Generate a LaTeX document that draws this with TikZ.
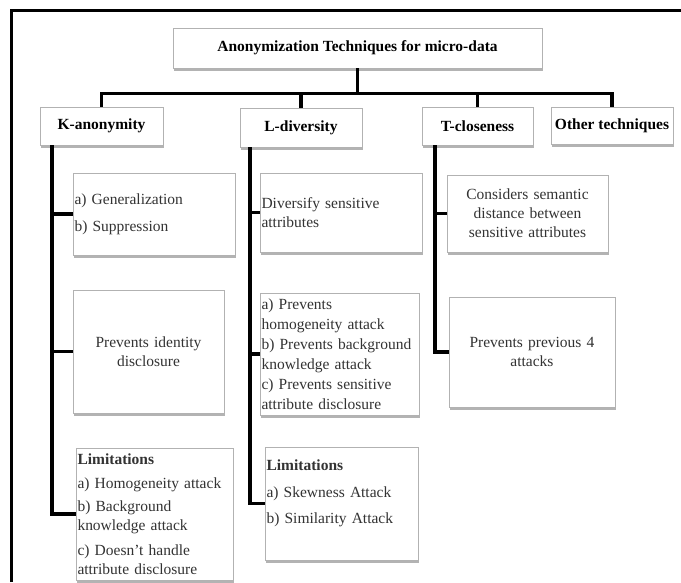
\documentclass[tikz,border=0pt]{standalone}
\usepackage{fontspec}
\setmainfont{Liberation Serif}
\usetikzlibrary{shadows}
\newcommand{\txtsize}{\fontsize{15.5}{19}\selectfont}
\tikzset{
    box/.style={draw=gray!60, line width=0.8pt, fill=white,
        drop shadow={shadow xshift=1.2pt, shadow yshift=-3pt, fill=gray!85, opacity=0.7},
        inner xsep=1.5pt, inner ysep=0pt, font=\txtsize, text=black!80},
    head/.style={box, font=\txtsize\bfseries, text=black},
    link/.style={line width=3.5pt, line join=miter}
}

\begin{document}
\begin{tikzpicture}[x=1pt, y=-1pt]
\useasboundingbox (0,0) rectangle (681,582);
% frame
\draw[line width=3pt] (11.5,582) -- (11.5,10) -- (681,10);

% headings
\node[head, minimum width=369pt, minimum height=40pt] (title) at (357.5,48) {Anonymization Techniques for micro-data};
\node[head, minimum width=123pt, minimum height=38pt] (kanon) at (101.5,126) {K-anonymity};
\node[head, minimum width=122pt, minimum height=39pt] (ldiv) at (301,127.5) {L-diversity};
\node[head, minimum width=111pt, minimum height=38pt] (tclose) at (477.5,126) {T-closeness};
\node[head, minimum width=122pt, minimum height=37pt] (other) at (612,125.5) {Other techniques};

% K-anonymity
\node[box, text width=159pt, minimum height=82pt, align=left] (kgen) at (154,214)
    {a) Generalization\\[8pt] b) Suppression};
\node[box, text width=148pt, minimum height=123pt, align=center] (kprev) at (148.5,351.5)
    {Prevents identity\\ disclosure};
\node[box, text width=154pt, minimum height=132pt, align=left] (klim) at (154.5,514)
    {\textbf{Limitations}\\[5pt] a) Homogeneity attack\\[4pt] b) Background\\ knowledge attack\\[6pt]
     c) Doesn't handle\\ attribute disclosure};

% L-diversity
\node[box, text width=159pt, minimum height=79pt, align=left] (ldivs) at (341,212.5)
    {Diversify sensitive\\ attributes};
\node[box, text width=156pt, minimum height=122pt, align=left] (lprev) at (339.5,354)
    {a) Prevents\\[1pt] homogeneity attack\\[1pt] b) Prevents background\\[1pt] knowledge attack\\[1pt]
     c) Prevents sensitive\\[1pt] attribute disclosure};
\node[box, text width=150pt, minimum height=113pt, align=left] (llim) at (341.5,503.5)
    {\textbf{Limitations}\\[8pt] a) Skewness Attack\\[7pt] b) Similarity Attack\\[5pt] \mbox{}};

% T-closeness
\node[box, text width=158pt, minimum height=77pt, align=center] (tsem) at (527.5,213.5)
    {Considers semantic\\ distance between\\ sensitive attributes};
\node[box, text width=163pt, minimum height=110pt, align=center] (tprev) at (532,352)
    {Prevents previous 4\\ attacks};

% tree
\coordinate (kx) at (52,0);
\coordinate (lx) at (250,0);
\coordinate (tx) at (435,0);
\draw[link] (title.south) -- ++(0,25) coordinate (bar);
\draw[link] (kanon.north) |- (bar) -| (other.north);
\draw[link] (ldiv.north) -- (ldiv.north |- bar);
\draw[link] (tclose.north) -- (tclose.north |- bar);

\draw[link] (kanon.south -| kx) |- (klim.west);
\draw[link] (kgen.west -| kx) -- (kgen.west);
\draw[link] (kprev.west -| kx) -- (kprev.west);

\draw[link] (ldiv.south -| lx) |- (llim.west);
\draw[link] (ldivs.west -| lx) -- (ldivs.west);
\draw[link] (lprev.west -| lx) -- (lprev.west);

\draw[link] (tclose.south -| tx) |- (tprev.west);
\draw[link] (tsem.west -| tx) -- (tsem.west);
\end{tikzpicture}
\end{document}
